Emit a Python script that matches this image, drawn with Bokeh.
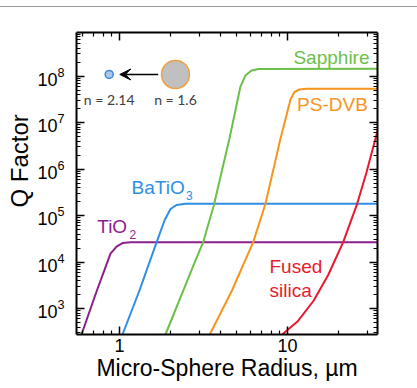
from bokeh.plotting import figure
from bokeh.models import (Range1d, LogAxis, FixedTicker, Label, Arrow, VeeHead, Title, Div,
                          CustomJSTickFormatter)
from bokeh.layouts import column
from bokeh.embed import file_html
from bokeh.resources import INLINE

# ---------------- data ----------------
tio2_r = [0.570, 0.594, 0.730, 0.884, 0.960, 1.042, 1.163, 36.0]
tio2_q = [168, 276, 2320, 15200, 21500, 25500, 26700, 26700]

batio3_r = [0.989, 1.042, 1.315, 1.660, 1.853, 2.012, 2.184, 2.471, 36.0]
batio3_q = [168, 276, 2440, 26200, 78000, 138000, 168000, 178500, 178500]

sapphire_r = [1.771, 1.878, 2.807, 3.149, 3.641, 4.516, 5.25, 5.62, 6.106, 6.72, 36.0]
sapphire_q = [168, 276, 9900, 26700, 164000, 4.53e6, 5.94e7, 1.03e8, 1.31e8, 1.416e8, 1.43e8]

psdvb_r = [3.25, 3.447, 4.674, 6.25, 7.396, 9.085, 9.86, 10.42, 11.01, 11.79, 12.98, 36.0]
psdvb_q = [168, 276, 2440, 26700, 178600, 4.46e6, 1.415e7, 3.13e7, 4.53e7, 5.13e7, 5.31e7, 5.31e7]

silica_r = [7.68, 9.301, 11.47, 14.34, 17.54, 21.46, 26.0, 29.53, 34.2, 34.8]
silica_q = [168, 276, 525, 1486, 5387, 26700, 178600, 8.41e5, 6.18e6, 7.8e6]

x_major = [1, 10]
x_minor = [0.6, 0.7, 0.8, 0.9, 2, 3, 4, 5, 6, 7, 8, 9, 20, 30]
y_major = [1e3, 1e4, 1e5, 1e6, 1e7, 1e8]
y_minor = [m * 10 ** k for k in range(2, 9) for m in range(2, 10)]

inset_r = [0.868, 2.154]
inset_q = [1.08e8, 1.08e8]
inset_n = ["n = 2.14", "n = 1.6"]

X0, X1 = 0.5546, 34.36
Y0, Y1 = 276, 8.63e8

C_TIO2 = "#8c1f8c"
C_BTO = "#2e8ee6"
C_SAP = "#6cbf48"
C_PS = "#f7941d"
C_SIL = "#e8192c"

FONT = "Liberation Sans"
TOP_STRIP = 7

p = figure(width=417, height=388 - TOP_STRIP, x_axis_type="log", y_axis_type="log",
           x_range=Range1d(X0, X1), y_range=Range1d(Y0, Y1),
           output_backend="svg", toolbar_location=None,
           min_border_left=76, min_border_right=40, min_border_top=32 - TOP_STRIP,
           min_border_bottom=54)
p.grid.visible = False
p.outline_line_color = None
p.background_fill_color = "white"
p.border_fill_color = "white"


def style_axis(ax, ticks, minor, show_labels):
    ax.ticker = FixedTicker(ticks=ticks, minor_ticks=minor)
    ax.axis_line_width = 2
    ax.axis_line_color = "black"
    ax.major_tick_in = 8
    ax.major_tick_out = 0
    ax.minor_tick_in = 4
    ax.minor_tick_out = 0
    ax.major_tick_line_width = 1.5
    ax.minor_tick_line_width = 1.2
    ax.major_tick_line_color = "black"
    ax.minor_tick_line_color = "black"
    if show_labels:
        ax.major_label_text_font = FONT
        ax.major_label_text_font_size = "18px"
        ax.major_label_text_color = "black"
    else:
        ax.major_label_text_font_size = "0px"
        ax.major_label_text_alpha = 0


xa = p.xaxis[0]
ya = p.yaxis[0]
style_axis(xa, x_major, x_minor, True)
style_axis(ya, y_major, y_minor, True)
xa.formatter = CustomJSTickFormatter(code="return String(Math.round(tick));")
xa.major_label_standoff = 4
ya.major_label_standoff = 12
xa.axis_label = "Micro-Sphere Radius, \u00b5m"
xa.axis_label_text_font = FONT
xa.axis_label_text_font_size = "23px"
xa.axis_label_text_font_style = "normal"
xa.axis_label_text_color = "black"
xa.axis_label_standoff = 0

top = LogAxis()
right = LogAxis()
style_axis(top, x_major, x_minor, False)
style_axis(right, y_major, y_minor, False)
p.add_layout(top, "above")
p.add_layout(right, "right")

p.add_layout(Title(text="Q Factor", align="left", offset=127, standoff=4,
                   text_font=FONT, text_font_size="24px", text_font_style="normal",
                   text_color="black"), "left")

# curves
for r, q, c in [(tio2_r, tio2_q, C_TIO2), (batio3_r, batio3_q, C_BTO),
                (sapphire_r, sapphire_q, C_SAP), (psdvb_r, psdvb_q, C_PS),
                (silica_r, silica_q, C_SIL)]:
    p.line(r, q, line_color=c, line_width=2)


def lab(text, x, y, size, color, align="left", baseline="alphabetic", yo=6, font=FONT):
    p.add_layout(Label(x=x, y=y, text=text, text_font=font, text_font_size=f"{size}px",
                       text_color=color, text_align=align, text_baseline=baseline,
                       y_offset=yo))


# series labels
lab("Sapphire", 18.28, 1.86e8, 19, C_SAP, align="center")
lab("PS-DVB", 18.53, 1.81e7, 19, C_PS, align="center")
lab("Fused", 7.816, 5940, 19, C_SIL)
lab("silica", 7.816, 1811, 19, C_SIL)
lab("BaTiO", 1.179, 3.02e5, 19, C_BTO)
lab("3", 2.488, 2.05e5, 12, C_BTO)
lab("TiO", 0.737, 43000, 19, C_TIO2)
lab("2", 1.147, 29000, 12, C_TIO2)

# inset
p.add_layout(Arrow(end=VeeHead(size=11, fill_color="black", line_color="black", line_width=1),
                   x_start=1.70, y_start=inset_q[0], x_end=1.004, y_end=inset_q[0],
                   line_color="black", line_width=1.5))
p.scatter([inset_r[0]], [inset_q[0]], size=8, fill_color="#a9c9ec", line_color="#3f86d6", line_width=1.5)
p.scatter([inset_r[1]], [inset_q[1]], size=28, fill_color="#c0c0c0", line_color="#f0a040", line_width=1.5)
for r, t in zip(inset_r, inset_n):
    lab(t, r, 3.07e7, 14, "#404040", align="center", baseline="middle", yo=0, font="Lato")

# thin grey rule at the very top of the picture
strip = Div(text="", width=417, height=TOP_STRIP, margin=0,
            styles={"border-bottom": "1.5px solid #9a9a9a", "box-sizing": "border-box"})

layout = column(strip, p, spacing=0)
open("out.html", "w").write(file_html(layout, INLINE))
